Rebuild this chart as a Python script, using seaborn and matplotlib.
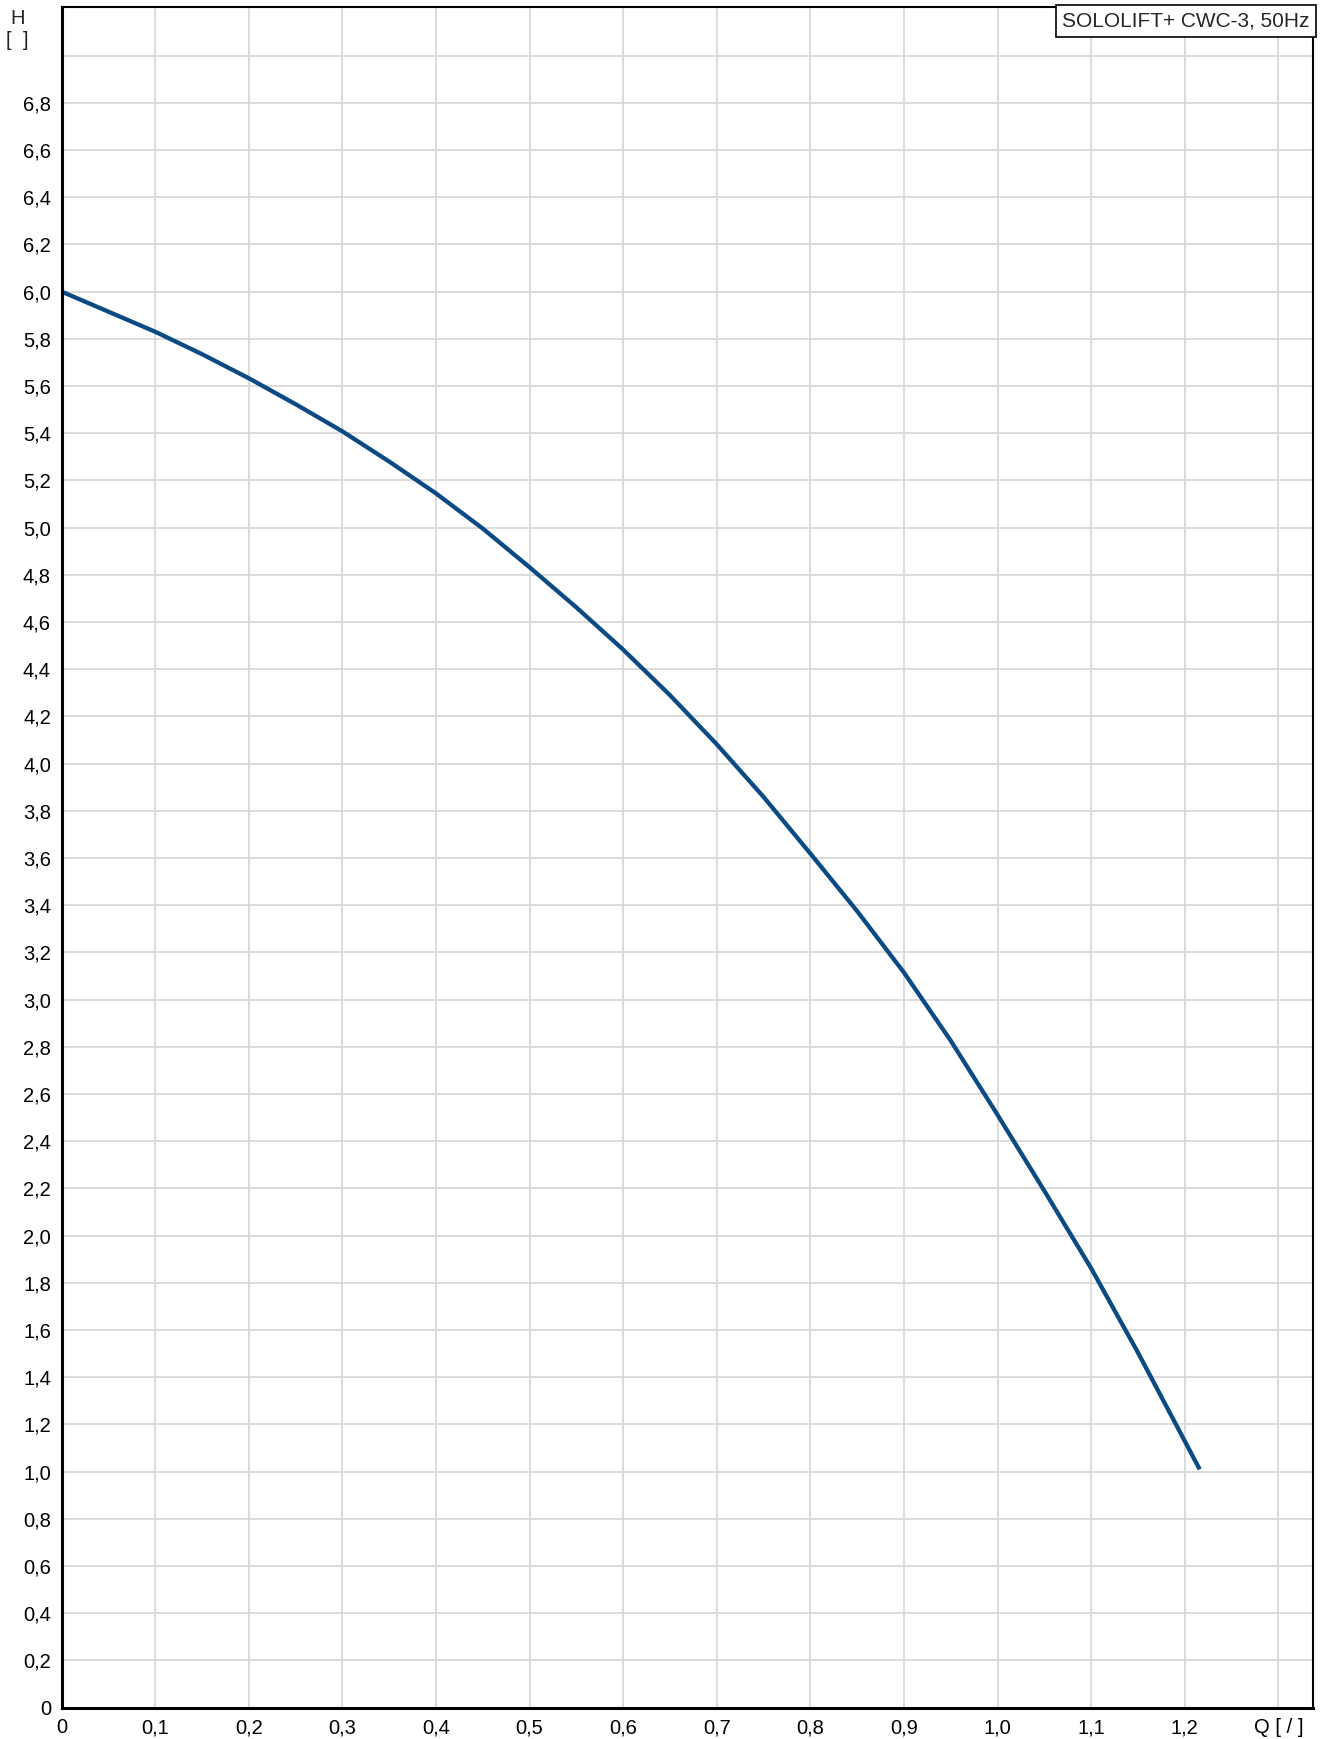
import numpy as np
import pandas as pd
import matplotlib
matplotlib.use('Agg')
import matplotlib.pyplot as plt
import seaborn as sns

# Pump curve (every 0.05 on Q)
q_values = [0.0, 0.05, 0.1, 0.15, 0.2, 0.25, 0.3, 0.35, 0.4, 0.45, 0.5, 0.55, 0.6,
            0.65, 0.7, 0.75, 0.8, 0.85, 0.9, 0.95, 1.0, 1.05, 1.1, 1.15, 1.2, 1.216]
h_values = [6.0, 5.915, 5.83, 5.735, 5.633, 5.523, 5.408, 5.28, 5.145, 4.996, 4.832, 4.662, 4.483,
            4.29, 4.082, 3.859, 3.619, 3.375, 3.115, 2.826, 2.512, 2.19, 1.862, 1.505, 1.13, 1.01]

x_ticks = [0.0, 0.1, 0.2, 0.3, 0.4, 0.5, 0.6, 0.7, 0.8, 0.9, 1.0, 1.1, 1.2, 1.3]
x_labels = ['0', '0,1', '0,2', '0,3', '0,4', '0,5', '0,6', '0,7', '0,8', '0,9', '1,0', '1,1', '1,2', 'Q [ / ]']
y_ticks = [round(0.2 * i, 1) for i in range(36)]
y_labels = ['0'] + [f'{v:.1f}'.replace('.', ',') for v in y_ticks[1:]]
y_labels[-1] = ''  # 7,0 has a tick but no label

title = 'SOLOLIFT+ CWC-3, 50Hz'

df = pd.DataFrame({'Q': q_values, 'H': h_values})

sns.set_style('white')
plt.rcParams['font.family'] = ['Liberation Sans', 'DejaVu Sans']

fig = plt.figure(figsize=(13.23, 17.39), dpi=100)
ax = fig.add_axes([0.0466, 0.018, 0.9458, 0.9777])

sns.lineplot(data=df, x='Q', y='H', color='#0c4a84', linewidth=3.1, ax=ax,
             solid_joinstyle='round', solid_capstyle='butt')

ax.set_xlim(0, 1.337)
ax.set_ylim(0, 7.204)
ax.set_xticks(x_ticks)
ax.set_xticklabels(x_labels, fontsize=14.5)
ax.set_yticks(y_ticks)
ax.set_yticklabels(y_labels, fontsize=14.5)
ax.set_xlabel('')
ax.set_ylabel('')
ax.grid(True, color='#d9d9d9', linewidth=1.3)
ax.set_axisbelow(True)
ax.tick_params(axis='both', direction='out', length=5.5, width=1.6, colors='black', pad=2.2)
for side in ['left', 'bottom']:
    ax.spines[side].set_linewidth(2.2)
for side in ['top', 'right']:
    ax.spines[side].set_linewidth(1.5)
for s in ax.spines.values():
    s.set_color('black')

ax.text(0.9975, 0.9975, title, transform=ax.transAxes, ha='right', va='top', fontsize=15,
        bbox=dict(boxstyle='square,pad=0.3', facecolor='white', edgecolor='black', linewidth=1.2))

fig.text(0.0134, 0.9893, 'H', ha='center', va='center', fontsize=14.5)
fig.text(0.0134, 0.9765, '[  ]', ha='center', va='center', fontsize=14.5)

fig.savefig('out.png', dpi=100)
